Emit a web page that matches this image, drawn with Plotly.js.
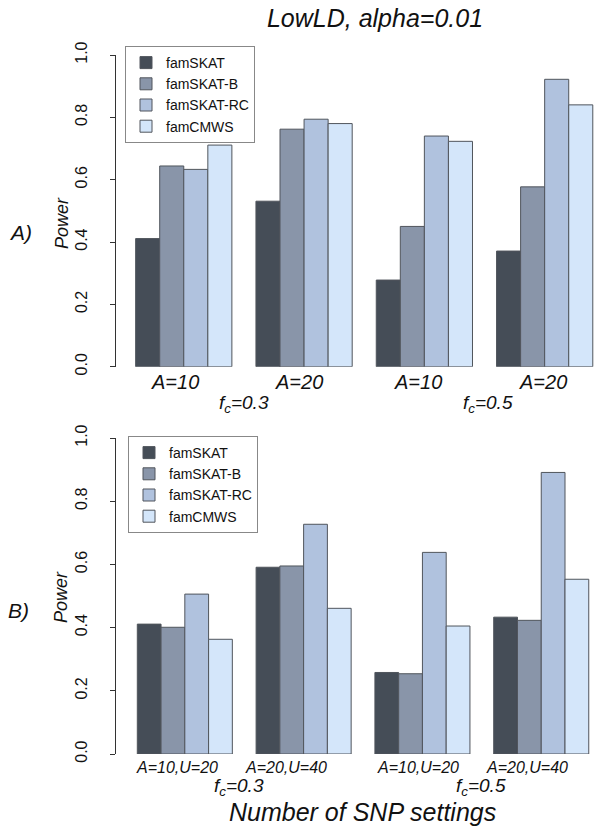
<!DOCTYPE html>
<html>
<head>
<meta charset="utf-8">
<script src="https://cdn.plot.ly/plotly-3.0.1.min.js"></script>
<style>html,body{margin:0;padding:0;background:#fff;}#chart{width:601px;height:840px;}</style>
</head>
<body>
<div id="chart"></div>
<script>
// ---- data ----
const methods = ["famSKAT", "famSKAT-B", "famSKAT-RC", "famCMWS"];
const settingsTop = ["A=10", "A=20", "A=10", "A=20"];
const settingsBottom = ["A=10,U=20", "A=20,U=40", "A=10,U=20", "A=20,U=40"];
const fcLabels = ["f<sub>c</sub>=0.3", "f<sub>c</sub>=0.5"];
const yTicks = [0, 0.2, 0.4, 0.6, 0.8, 1.0];
const yTickText = ["0.0", "0.2", "0.4", "0.6", "0.8", "1.0"];

// Panel A (Power)
const topFamSKAT   = [0.411, 0.531, 0.278, 0.371];
const topFamSKATB  = [0.644, 0.762, 0.450, 0.577];
const topFamSKATRC = [0.633, 0.794, 0.740, 0.922];
const topFamCMWS   = [0.711, 0.780, 0.723, 0.840];
// Panel B (Power)
const botFamSKAT   = [0.411, 0.591, 0.258, 0.433];
const botFamSKATB  = [0.401, 0.595, 0.254, 0.423];
const botFamSKATRC = [0.506, 0.727, 0.638, 0.891];
const botFamCMWS   = [0.363, 0.461, 0.405, 0.553];

// ---- styles ----
const colors = ["#454d57", "#8995a9", "#b0c2de", "#d4e6fa"];
const FONT = "Liberation Sans, Arial, Helvetica, sans-serif";
const W = 601, H = 840;
const px = v => v / W;
const py = v => 1 - v / H;

const topSeries = [topFamSKAT, topFamSKATB, topFamSKATRC, topFamCMWS];
const botSeries = [botFamSKAT, botFamSKATB, botFamSKATRC, botFamCMWS];

const traces = [];
topSeries.forEach((vals, k) => {
  traces.push({
    type: "bar", name: methods[k],
    x: settingsTop.map((_, i) => i), y: vals,
    xaxis: "x", yaxis: "y", legend: "legend",
    marker: {color: colors[k], line: {color: "#50555c", width: 1}},
    hoverinfo: "skip"
  });
});
botSeries.forEach((vals, k) => {
  traces.push({
    type: "bar", name: methods[k],
    x: settingsBottom.map((_, i) => i), y: vals,
    xaxis: "x2", yaxis: "y2", legend: "legend2",
    marker: {color: colors[k], line: {color: "#50555c", width: 1}},
    hoverinfo: "skip"
  });
});

const yax = (domain) => ({
  domain: domain, range: [0, 1], fixedrange: true,
  showgrid: false, zeroline: false,
  showline: true, linecolor: "#333", linewidth: 1,
  ticks: "outside", ticklen: 5, tickcolor: "#333", tickwidth: 1,
  tickvals: yTicks, ticktext: yTickText, tickangle: -90,
  tickfont: {family: FONT, size: 16, color: "#111"},
  ticklabelstandoff: 17
});
const xax = (domain, range, anchor) => ({
  domain: domain, range: range, anchor: anchor, fixedrange: true,
  showgrid: false, zeroline: false, showline: false,
  showticklabels: false, ticks: ""
});

const annotations = [];
const txt = (text, x, y, size, opts) => Object.assign({
  text: text, x: x, y: y, xref: "paper", yref: "paper",
  showarrow: false, xanchor: "center", yanchor: "middle",
  font: {family: FONT, size: size, color: "#111"}
}, opts || {});

// group labels, top
const topShift = [-9, -5, -6, -2];
settingsTop.forEach((s, i) => annotations.push(txt("<i>" + s + "</i>", i, py(381.7), 20, {xref: "x", xshift: topShift[i]})));
annotations.push(txt("<i>" + fcLabels[0] + "</i>", 0.5, py(404), 19, {xref: "x"}));
annotations.push(txt("<i>" + fcLabels[1] + "</i>", 2.5, py(404), 19, {xref: "x", xshift: 3}));
// group labels, bottom
const botShift = [-8, -18, -4, -14];
settingsBottom.forEach((s, i) => annotations.push(txt("<i>" + s + "</i>", i, py(767), 16, {xref: "x2", xshift: botShift[i]})));
annotations.push(txt("<i>" + fcLabels[0] + "</i>", 0.5, py(787), 19, {xref: "x2", xshift: -5}));
annotations.push(txt("<i>" + fcLabels[1] + "</i>", 2.5, py(787), 19, {xref: "x2", xshift: -1}));
// axis titles
annotations.push(txt("<i>Power</i>", px(62), py(223), 18, {textangle: -90}));
annotations.push(txt("<i>Power</i>", px(61), py(597), 18, {textangle: -90}));
annotations.push(txt("<i>A)</i>", px(20), py(232), 21));
annotations.push(txt("<i>B)</i>", px(18), py(610), 21));
annotations.push(txt("<i>Number of SNP settings</i>", px(362), py(812), 25));

const legendBase = {
  xanchor: "left", yanchor: "top",
  bgcolor: "rgba(255,255,255,1)", bordercolor: "#888", borderwidth: 1,
  font: {family: FONT, size: 14, color: "#111"},
  tracegroupgap: 0, itemwidth: 30, traceorder: "normal",
  itemclick: false, itemdoubleclick: false
};

const layout = {
  width: W, height: H,
  margin: {l: 0, r: 0, t: 0, b: 0},
  paper_bgcolor: "#fff", plot_bgcolor: "#fff",
  font: {family: FONT, color: "#111"},
  title: {text: "<i>LowLD, alpha=0.01</i>", x: px(375), y: py(18), xanchor: "center", yanchor: "middle",
          font: {family: FONT, size: 25, color: "#111"}},
  barmode: "group", bargap: 0.2, bargroupgap: 0,
  xaxis: xax([px(116.4), px(598.8)], [-0.56, 3.45], "y"),
  yaxis: yax([py(366.7), py(55)]),
  xaxis2: xax([px(119), px(594.7)], [-0.554, 3.45], "y2"),
  yaxis2: yax([py(754), py(438)]),
  legend: Object.assign({}, legendBase, {x: px(125), y: py(46)}),
  legend2: Object.assign({}, legendBase, {x: px(128), y: py(436)}),
  annotations: annotations,
  showlegend: true
};

Plotly.newPlot("chart", traces, layout, {staticPlot: true, displayModeBar: false});
</script>
</body>
</html>
